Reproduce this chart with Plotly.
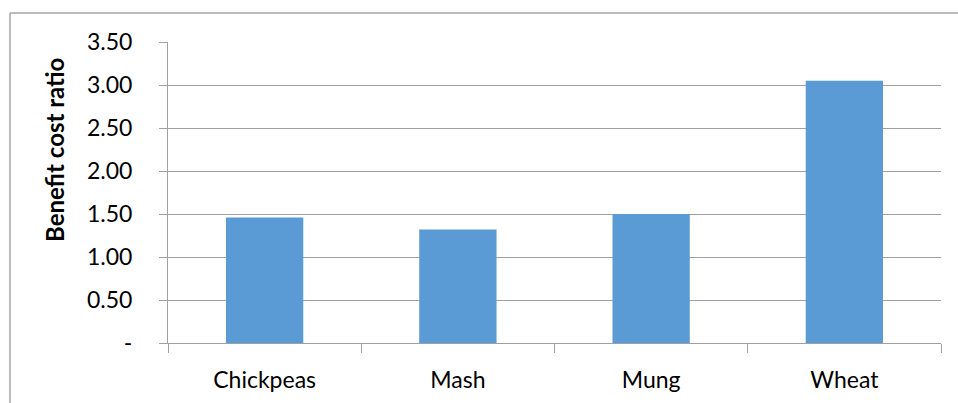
import plotly.graph_objects as go

# Benefit–cost ratios by crop
crops = ["Chickpeas", "Mash", "Mung", "Wheat"]
bc_ratio = [1.46, 1.32, 1.50, 3.05]

y_ticks = [0, 0.5, 1.0, 1.5, 2.0, 2.5, 3.0, 3.5]
y_tick_text = ["-", "0.50", "1.00", "1.50", "2.00", "2.50", "3.00", "3.50"]

W, H = 958, 403
L, R, T, B = 168, 17, 42, 60
grid = "#a0a0a0"
font = "Lato, Open Sans, sans-serif"

fig = go.Figure(
    go.Bar(
        x=crops,
        y=bc_ratio,
        marker=dict(color="#5b9bd5", line=dict(width=0)),
        width=0.4,
    )
)

fig.update_layout(
    width=W,
    height=H,
    margin=dict(l=L, r=R, t=T, b=B, autoexpand=False),
    paper_bgcolor="white",
    plot_bgcolor="white",
    font=dict(family=font, size=23, color="#000000"),
    showlegend=False,
    bargap=0.6,
)

fig.update_xaxes(
    automargin=False,
    showline=True,
    linecolor=grid,
    linewidth=1,
    ticks="outside",
    tickson="boundaries",
    ticklen=9,
    tickcolor=grid,
    showgrid=False,
    ticklabelstandoff=16,
)

fig.update_yaxes(
    automargin=False,
    range=[0, 3.5],
    tickvals=y_ticks,
    ticktext=y_tick_text,
    showline=True,
    linecolor=grid,
    linewidth=1,
    ticks="outside",
    ticklen=8,
    tickcolor=grid,
    showgrid=True,
    gridcolor=grid,
    gridwidth=1,
    zeroline=False,
    ticklabelstandoff=22,
)

# Axis title placed as an annotation, vertical and bold
fig.add_annotation(
    text="<b>Benefit cost ratio</b>",
    textangle=-90,
    xref="paper",
    yref="paper",
    x=(54 - L) / (W - L - R),
    y=(H - B - 150) / (H - T - B),
    xanchor="center",
    yanchor="middle",
    showarrow=False,
    font=dict(family=font, size=24, color="#000000"),
)

# Outer chart frame: top edge and left edge
pw, ph = W - L - R, H - T - B
def px_x(px):
    return (px - L) / pw
def px_y(py):
    return (H - B - py) / ph

fig.add_shape(type="line", xref="paper", yref="paper",
              x0=px_x(10), x1=px_x(W + 2), y0=px_y(13), y1=px_y(13),
              line=dict(color="#a6a6a6", width=1.5))
fig.add_shape(type="line", xref="paper", yref="paper",
              x0=px_x(10), x1=px_x(10), y0=px_y(13), y1=px_y(H + 2),
              line=dict(color="#a6a6a6", width=1.5))

fig.write_html("out.html")
